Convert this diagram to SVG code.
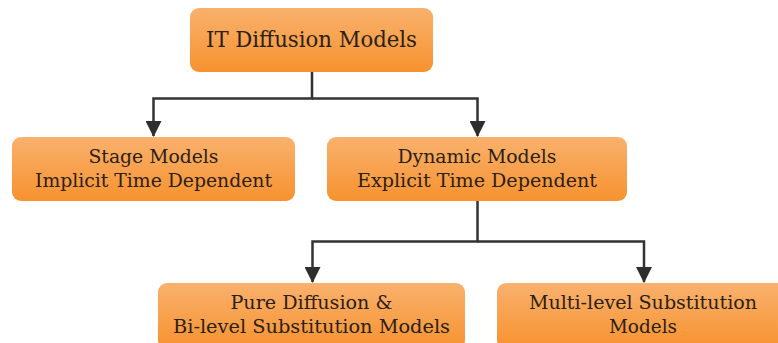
<svg xmlns="http://www.w3.org/2000/svg" width="778" height="343" viewBox="0 0 778 343">
  <defs>
    <linearGradient id="boxFill" x1="0" y1="0" x2="0" y2="1">
      <stop offset="0" stop-color="#F9B16D"/>
      <stop offset="1" stop-color="#F7922F"/>
    </linearGradient>
    <marker id="arrow" viewBox="0 0 16 16" refX="15" refY="8" markerWidth="16" markerHeight="16" markerUnits="userSpaceOnUse" orient="auto">
      <path d="M0,0 L16,8 L0,16 Z" fill="#2E2E2E"/>
    </marker>
  </defs>
  <style>
    .box { fill: url(#boxFill); }
    .label { fill: #2A2118; text-anchor: middle; }
    .title { font-size: 22px; }
    .sub { font-size: 18px; }
    .wire { fill: none; stroke: #333333; stroke-width: 2.5; }
  </style>
  <rect width="778" height="343" fill="#FFFFFF"/>

  <g id="connectors">
    <path class="wire" d="M312,72 V98.5 H153.5 V136" marker-end="url(#arrow)"/>
    <path class="wire" d="M312,98.5 H477.5 V136" marker-end="url(#arrow)"/>
    <path class="wire" d="M477.5,201 V241.5 H312.5 V282" marker-end="url(#arrow)"/>
    <path class="wire" d="M477.5,241.5 H644 V282" marker-end="url(#arrow)"/>
  </g>

  <g font-family="'DejaVu Serif', 'Liberation Serif', serif">
    <g id="root">
      <rect class="box" x="190" y="8" width="243" height="64" rx="9"/>
      <text class="label title" x="311.5" y="47" textLength="211" lengthAdjust="spacingAndGlyphs">IT Diffusion Models</text>
    </g>

    <g id="stage">
      <rect class="box" x="12" y="137" width="283" height="64" rx="9"/>
      <text class="label sub" x="153.5" y="163" textLength="130" lengthAdjust="spacingAndGlyphs">Stage Models</text>
      <text class="label sub" x="153.5" y="187" textLength="237" lengthAdjust="spacingAndGlyphs">Implicit Time Dependent</text>
    </g>

    <g id="dynamic">
      <rect class="box" x="327" y="137" width="300" height="64" rx="9"/>
      <text class="label sub" x="477" y="163" textLength="159" lengthAdjust="spacingAndGlyphs">Dynamic Models</text>
      <text class="label sub" x="477" y="187" textLength="240" lengthAdjust="spacingAndGlyphs">Explicit Time Dependent</text>
    </g>

    <g id="pure">
      <rect class="box" x="158" y="283" width="307" height="66" rx="9"/>
      <text class="label sub" x="311.5" y="309" textLength="162" lengthAdjust="spacingAndGlyphs">Pure Diffusion &amp;</text>
      <text class="label sub" x="311.5" y="333" textLength="277" lengthAdjust="spacingAndGlyphs">Bi-level Substitution Models</text>
    </g>

    <g id="multi">
      <rect class="box" x="497" y="283" width="295" height="66" rx="9"/>
      <text class="label sub" x="643" y="309" textLength="228" lengthAdjust="spacingAndGlyphs">Multi-level Substitution</text>
      <text class="label sub" x="643" y="333" textLength="68" lengthAdjust="spacingAndGlyphs">Models</text>
    </g>
  </g>
</svg>
